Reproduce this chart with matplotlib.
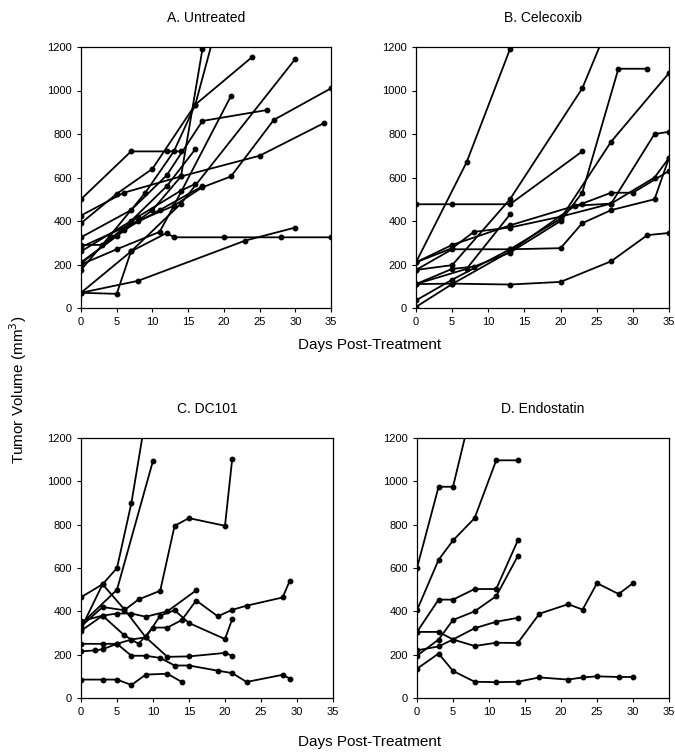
import matplotlib.pyplot as plt

plt.rcParams['font.family'] = ['Liberation Sans', 'DejaVu Sans']

# Panel A: untreated (days, volumes per mouse)
A_days = [
    [0, 7, 12, 14],
    [0, 5, 10, 14, 17],
    [0, 4, 9, 13, 16, 19],
    [0, 5, 10, 16, 24],
    [0, 7, 14, 30],
    [0, 8, 13, 17, 21, 27, 35],
    [0, 6, 14, 25, 34],
    [0, 7, 12, 17, 26],
    [0, 5, 11, 13, 21],
    [0, 5, 7, 12, 13, 20, 28, 35],
    [0, 8, 23, 30],
    [0, 7, 12, 16],
    [0, 3, 8, 14, 16],
    [0, 6, 11, 17],
]
A_vols = [
    [500, 720, 720, 720],
    [210, 330, 450, 605, 1190],
    [175, 330, 530, 720, 935, 1300],
    [390, 525, 640, 935, 1155],
    [70, 260, 480, 1145],
    [280, 400, 470, 555, 605, 865, 1010],
    [425, 530, 605, 700, 850],
    [325, 450, 610, 860, 910],
    [200, 270, 350, 470, 975],
    [70, 65, 260, 345, 325, 325, 325, 325],
    [70, 125, 310, 370],
    [260, 400, 560, 730],
    [290, 290, 420, 540, 570],
    [205, 360, 450, 560],
]

# Panel B: celecoxib
B_days = [
    [0, 7, 13],
    [0, 5, 13, 23],
    [0, 5, 13, 23, 26],
    [0, 5, 13, 20, 27, 32, 35],
    [0, 5, 8, 13, 20, 23, 28, 32],
    [0, 5, 13, 20, 27, 35],
    [0, 5, 8, 13, 20, 27, 33, 35],
    [0, 5, 13, 23, 27, 30, 35],
    [0, 5, 13, 20, 23, 27, 33, 35],
    [0, 5, 13, 22, 27, 33, 35],
    [0, 7, 13],
]
B_vols = [
    [210, 670, 1190],
    [477, 477, 477, 720],
    [175, 197, 500, 1010, 1250],
    [110, 112, 108, 120, 215, 335, 345],
    [110, 180, 190, 255, 400, 530, 1100, 1100],
    [35, 130, 270, 410, 765, 1080],
    [210, 275, 350, 370, 420, 480, 600, 690],
    [210, 290, 380, 480, 530, 530, 630],
    [175, 270, 270, 275, 390, 450, 500, 690],
    [5, 110, 260, 470, 480, 800, 810],
    [110, 180, 430],
]

# Panel C: DC101
C_days = [
    [0, 3, 5, 7, 9],
    [0, 5, 10],
    [0, 3, 6, 8, 11, 13, 15, 20, 21],
    [0, 3, 6, 8, 10, 12, 14, 16, 19, 21, 23, 28, 29],
    [0, 3, 5, 7, 9, 12, 16],
    [0, 3, 5, 7, 9, 11, 13, 15, 20, 21],
    [0, 3, 6, 9, 12, 15, 20, 21],
    [0, 2, 3, 5, 7, 9, 11, 13, 15, 19, 21, 23, 28, 29],
    [0, 3, 5, 7, 9, 12, 14],
]
C_vols = [
    [465, 525, 600, 900, 1300],
    [340, 500, 1095],
    [330, 420, 405, 455, 495, 795, 830, 795, 1103],
    [355, 380, 290, 250, 325, 325, 360, 450, 377, 407, 426, 464, 541],
    [310, 380, 390, 390, 375, 400, 497],
    [250, 250, 250, 270, 280, 380, 405, 346, 272, 364],
    [320, 525, 410, 280, 190, 192, 208, 195],
    [215, 220, 225, 250, 195, 195, 185, 150, 150, 126, 115, 74, 107, 90],
    [85, 85, 85, 60, 108, 112, 74],
]

# Panel D: endostatin
D_days = [
    [0, 3, 5, 7],
    [0, 3, 5, 8, 11, 14],
    [0, 3, 5, 8, 11, 14],
    [0, 3, 5, 8, 11, 14],
    [0, 3, 5, 8, 11, 14, 17, 21, 23, 25, 28, 30],
    [0, 3, 5, 8, 11, 14],
    [0, 3, 5, 8, 11, 14, 17, 21, 23, 25, 28, 30],
]
D_vols = [
    [600, 975, 975, 1250],
    [405, 638, 727, 830, 1097, 1097],
    [305, 454, 454, 503, 503, 727],
    [195, 270, 360, 400, 470, 655],
    [305, 305, 270, 240, 255, 254, 389, 433, 408, 530, 480, 530],
    [220, 238, 270, 322, 352, 370],
    [135, 205, 125, 75, 73, 75, 95, 85, 95, 100, 97, 97],
]

titles = ["A. Untreated", "B. Celecoxib", "C. DC101", "D. Endostatin"]
panels = [(A_days, A_vols), (B_days, B_vols), (C_days, C_vols), (D_days, D_vols)]

W, H = 675, 754
fig = plt.figure(figsize=(W / 100, H / 100), dpi=100)

# axes boxes in pixels: left, top, right, bottom
boxes = [(81, 47, 331, 308), (416, 47, 669, 308), (81, 438, 333, 698), (417, 438, 669, 698)]

for (days, vols), title, (l, t, r, b) in zip(panels, titles, boxes):
    ax = fig.add_axes([l / W, 1 - b / H, (r - l) / W, (b - t) / H])
    for d, v in zip(days, vols):
        ax.plot(d, v, color='black', linewidth=1.3, marker='o', markersize=3.2)
    ax.set_xlim(0, 35)
    ax.set_ylim(0, 1200)
    ax.set_xticks(range(0, 36, 5))
    ax.set_yticks(range(0, 1201, 200))
    ax.tick_params(labelsize=8, length=3, width=0.8, direction='out')
    for s in ax.spines.values():
        s.set_linewidth(0.9)
    ax.set_title(title, fontsize=10, pad=18)

fig.text(370 / W, 1 - 345 / H, "Days Post-Treatment", ha='center', va='center', fontsize=11)
fig.text(370 / W, 1 - 742 / H, "Days Post-Treatment", ha='center', va='center', fontsize=11)
fig.text(18 / W, 1 - 390 / H, "Tumor Volume (mm$^3$)", ha='center', va='center',
         rotation=90, fontsize=11)

fig.savefig("out.png", dpi=100)
